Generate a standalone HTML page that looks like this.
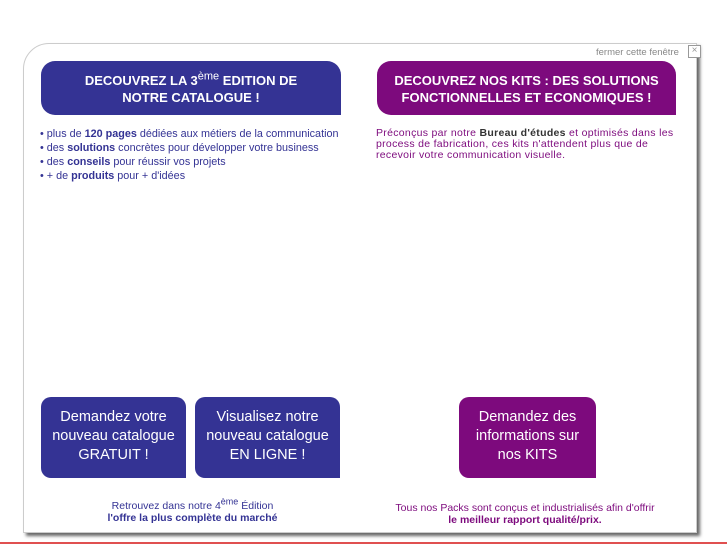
<!DOCTYPE html>
<html><head><meta charset="utf-8"><style>
body{margin:0;width:727px;height:545px;background:#fff;position:relative;overflow:hidden;font-family:"Liberation Sans",sans-serif}
.panel{position:absolute;left:23px;top:43px;width:672px;height:488px;background:#fff;border:1px solid #ccc;border-top-left-radius:26px;box-shadow:3px 3px 3px #666}
.hd{position:absolute;top:61px;height:54px;color:#fff;font-weight:bold;font-size:13px;line-height:17px;text-align:center;border-radius:14px 14px 0 14px;box-sizing:border-box;padding-top:11px}
.blue{background:#343394}.purp{background:#7d0a7d}
.btn{position:absolute;top:397px;height:81px;color:#fff;font-size:14.5px;line-height:19px;text-align:center;border-radius:10px 10px 0 10px;box-sizing:border-box;padding-top:11px}
.t{position:absolute;font-size:11px;line-height:14px}
</style></head><body>
<div class="panel"></div>
<div class="t" style="left:596px;top:46px;color:#888;font-size:9.5px">fermer cette fenêtre</div>
<div style="position:absolute;left:688px;top:45px;width:11px;height:11px;border:1px solid #999;background:#fff;font-size:10px;line-height:10px;text-align:center;color:#999">×</div>
<div class="hd blue" style="left:41px;width:300px">DECOUVREZ LA 3<sup style="font-weight:normal;font-size:11px;line-height:0">ème</sup> EDITION DE<br>NOTRE CATALOGUE !</div>
<div class="hd purp" style="left:377px;width:299px">DECOUVREZ NOS KITS : DES SOLUTIONS<br>FONCTIONNELLES ET ECONOMIQUES !</div>
<div class="t" style="left:40px;top:127px;color:#343394;font-size:10.8px">• plus de <b>120 pages</b> dédiées aux métiers de la communication<br>• des <b>solutions</b> concrètes pour développer votre business<br>• des <b>conseils</b> pour réussir vos projets<br>• + de <b>produits</b> pour + d'idées</div>
<div class="t" style="left:376px;top:128px;color:#7d0a7d;font-size:10.5px;line-height:11px;letter-spacing:0.3px">Préconçus par notre <b style="color:#333">Bureau d'études</b> et optimisés dans les<br>process de fabrication, ces kits n'attendent plus que de<br>recevoir votre communication visuelle.</div>
<div class="btn blue" style="left:41px;width:145px">Demandez votre<br>nouveau catalogue<br>GRATUIT !</div>
<div class="btn blue" style="left:195px;width:145px">Visualisez notre<br>nouveau catalogue<br>EN LIGNE !</div>
<div class="btn purp" style="left:459px;width:137px">Demandez des<br>informations sur<br>nos KITS</div>
<div class="t" style="left:60px;width:265px;top:500px;text-align:center;color:#343394;font-size:10.5px;line-height:12px">Retrouvez dans notre 4<sup style="font-size:9px;line-height:0">ème</sup> Édition<br><b>l'offre la plus complète du marché</b></div>
<div class="t" style="left:370px;width:310px;top:502px;text-align:center;color:#7d0a7d;font-size:10.5px;line-height:12px">Tous nos Packs sont conçus et industrialisés afin d'offrir<br><b>le meilleur rapport qualité/prix.</b></div>
<div style="position:absolute;left:0;top:542px;width:727px;height:2px;background:#e05050"></div>
</body></html>
